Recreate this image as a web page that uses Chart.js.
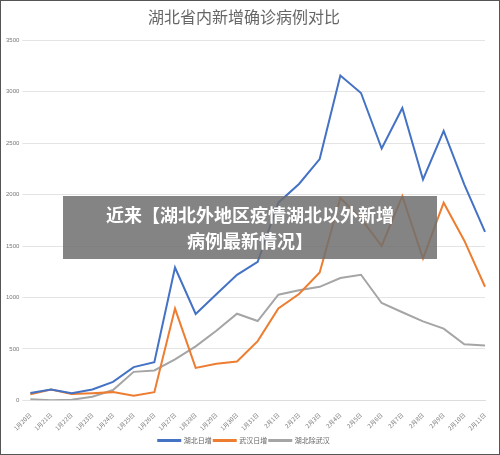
<!DOCTYPE html>
<html><head><meta charset="utf-8">
<script src="https://cdn.jsdelivr.net/npm/chart.js@4"></script>
<style>
body{margin:0;background:#fff;font-family:"Noto Sans CJK SC",sans-serif;}
#wrap{position:relative;width:500px;height:455px;box-sizing:border-box;border:1px solid #555;}
#ban{position:absolute;left:62px;top:195px;width:374px;height:63px;background:rgba(110,110,110,0.85);color:#fff;font-weight:bold;font-size:18px;text-align:center;line-height:26px;padding-top:5px;box-sizing:border-box;}
</style></head><body>
<div id="wrap"><canvas id="c" width="498" height="453"></canvas>
<div id="ban">近来【湖北外地区疫情湖北以外新增<br>病例最新情况】</div></div>
<script>
const labels=["1月20日","1月21日","1月22日","1月23日","1月24日","1月25日","1月26日","1月27日","1月28日","1月29日","1月30日","1月31日","2月1日","2月2日","2月3日","2月4日","2月5日","2月6日","2月7日","2月8日","2月9日","2月10日","2月11日"];
const hubei=[72,105,69,105,180,323,371,1291,840,1032,1220,1347,1921,2103,2345,3156,2987,2447,2841,2147,2618,2097,1638];
const wuhan=[60,105,62,70,80,46,80,892,315,356,378,576,894,1033,1242,1967,1766,1501,1985,1379,1921,1552,1104];
const others=[12,0,7,35,100,277,291,399,525,676,842,771,1027,1070,1103,1189,1221,946,856,768,697,545,534];
const ds=(l,d,c)=>({label:l,data:d,borderColor:c,backgroundColor:c,borderWidth:2,pointRadius:0,tension:0});
new Chart(document.getElementById('c'),{type:'line',
data:{labels,datasets:[ds('湖北日增',hubei,'#4472c4'),ds('武汉日增',wuhan,'#ed7d31'),ds('湖北除武汉',others,'#a5a5a5')]},
options:{responsive:false,animation:false,
layout:{padding:{left:2,right:14,top:4,bottom:0}},
plugins:{title:{display:true,text:'湖北省内新增确诊病例对比',color:'#666',font:{size:16,family:'Noto Sans CJK SC',weight:'normal'},padding:{top:2,bottom:14}},
legend:{position:'bottom',labels:{boxWidth:22,boxHeight:1,font:{size:7,family:'Noto Sans CJK SC'},color:'#666',padding:2}}},
scales:{x:{grid:{display:false},border:{color:'#ddd'},ticks:{maxRotation:45,minRotation:45,autoSkip:false,font:{size:6,family:'Noto Sans CJK SC'},color:'#777'}},
y:{min:0,max:3500,ticks:{stepSize:500,font:{size:6},color:'#777',callback:v=>String(v)},grid:{color:'#e4e4e4'},border:{display:false}}}}});
</script></body></html>
